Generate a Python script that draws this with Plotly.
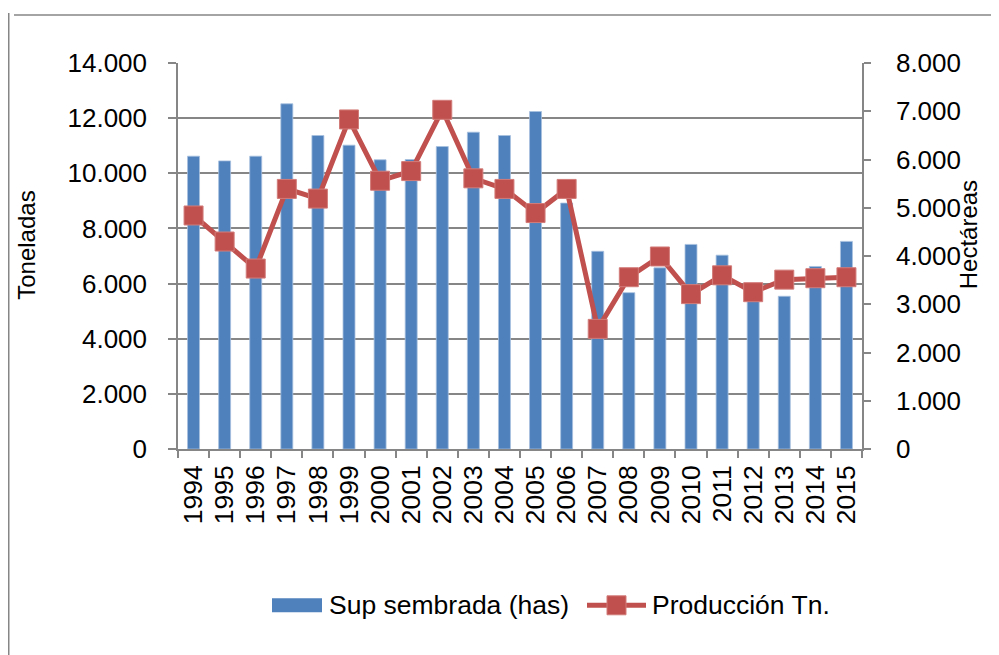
import plotly.graph_objects as go

years = [str(y) for y in range(1994, 2016)]
sup_sembrada = [10620, 10450, 10620, 12520, 11370, 11020, 10490, 10500, 10970, 11490, 11370,
                12240, 8920, 7170, 5670, 6570, 7420, 7030, 5650, 5540, 6620, 7530]
produccion = [4840, 4300, 3740, 5390, 5190, 6830, 5560, 5760, 7030, 5610, 5390,
              4890, 5390, 2490, 3560, 3990, 3210, 3600, 3250, 3510, 3540, 3560]

left_ticks = [0, 2000, 4000, 6000, 8000, 10000, 12000, 14000]
right_ticks = [0, 1000, 2000, 3000, 4000, 5000, 6000, 7000, 8000]

BAR_NAME = "Sup sembrada (has)"
LINE_NAME = "Producción Tn."

BLUE = "#4F81BD"
RED = "#C0504D"
GRAY = "#868686"
FONT = "Liberation Sans, Arial, sans-serif"

# page has an 8px body margin; figure coordinates are page coordinates minus 8
OFF = 8
L, T, PW, PH = 178 - OFF, 63 - OFF, 684, 386.5
W, H = 999 - OFF, 655 - OFF


def px(x):
    return (x - OFF - L) / PW


def py(y):
    return (T + PH - (y - OFF)) / PH


fig = go.Figure()
fig.add_trace(go.Bar(
    x=years, y=sup_sembrada, name=BAR_NAME,
    marker=dict(color=BLUE, line=dict(color="#A7C0DE", width=0.8)),
    yaxis="y",
))
fig.add_trace(go.Scatter(
    x=years, y=produccion, name=LINE_NAME, mode="lines+markers",
    line=dict(color=RED, width=5),
    marker=dict(symbol="square", size=19, color=RED, line=dict(color="#D27C7A", width=1)),
    yaxis="y2",
))

LEG_Y = 606
legend_shapes = [
    dict(type="rect", xref="paper", yref="paper",
         x0=px(272), x1=px(322), y0=py(599), y1=py(613),
         fillcolor=BLUE, line=dict(width=0)),
    dict(type="line", xref="paper", yref="paper",
         x0=px(587), x1=px(646), y0=py(LEG_Y), y1=py(LEG_Y),
         line=dict(color=RED, width=5)),
    dict(type="rect", xref="paper", yref="paper",
         x0=px(607), x1=px(626), y0=py(596.5), y1=py(615.5),
         fillcolor=RED, line=dict(color="#D27C7A", width=1)),
]
legend_texts = [
    dict(text=BAR_NAME, xref="paper", yref="paper", x=px(327), y=py(LEG_Y),
         xanchor="left", yanchor="middle", showarrow=False, font=dict(size=26.5)),
    dict(text=LINE_NAME, xref="paper", yref="paper", x=px(650), y=py(LEG_Y),
         xanchor="left", yanchor="middle", showarrow=False, font=dict(size=26.5)),
]

fig.update_layout(
    width=W, height=H,
    margin=dict(l=L, r=W - L - PW, t=T, b=H - T - PH, autoexpand=False),
    paper_bgcolor="white", plot_bgcolor="white",
    separators=",.",
    font=dict(family=FONT, color="black", size=25),
    bargap=0.615,
    showlegend=False,
    xaxis=dict(
        type="category", tickangle=-90, tickfont=dict(size=26.5),
        tickmode="array", tickvals=years, automargin=False,
        range=[-0.5, len(years) - 0.5],
        showline=True, linecolor=GRAY, linewidth=1.5,
        ticks="outside", tickson="boundaries", ticklen=7, tickcolor=GRAY, tickwidth=1.5,
        showgrid=False, ticklabelstandoff=4,
    ),
    yaxis=dict(
        range=[0, 14000], tickvals=left_ticks, tickformat=",d", automargin=False,
        tickfont=dict(size=26),
        showline=True, linecolor=GRAY, linewidth=1.5,
        ticks="outside", ticklen=8, tickcolor=GRAY, tickwidth=1.5,
        showgrid=True, gridcolor=GRAY, gridwidth=1.5,
        ticklabelstandoff=16, zeroline=False,
    ),
    yaxis2=dict(
        range=[0, 8000], tickvals=right_ticks, tickformat=",d", automargin=False,
        tickfont=dict(size=26),
        overlaying="y", side="right",
        showline=True, linecolor=GRAY, linewidth=1.5,
        ticks="outside", ticklen=7, tickcolor=GRAY, tickwidth=1.5,
        showgrid=False, zeroline=False, ticklabelstandoff=20,
    ),
    annotations=[
        dict(text="Toneladas", textangle=-90, xref="paper", yref="paper",
             x=px(27), y=py(246), showarrow=False,
             xanchor="center", yanchor="middle", font=dict(size=24)),
        dict(text="Hectáreas", textangle=-90, xref="paper", yref="paper",
             x=px(968), y=py(235.5), showarrow=False,
             xanchor="center", yanchor="middle", font=dict(size=24)),
    ] + legend_texts,
    shapes=[
        dict(type="line", xref="paper", yref="paper",
             x0=px(8.75), x1=px(8.75), y0=py(13), y1=py(670),
             line=dict(color=GRAY, width=1.5)),
        dict(type="line", xref="paper", yref="paper",
             x0=px(14), x1=px(1010), y0=py(15), y1=py(15),
             line=dict(color=GRAY, width=1.5)),
    ] + legend_shapes,
)

fig.write_html("out.html")
